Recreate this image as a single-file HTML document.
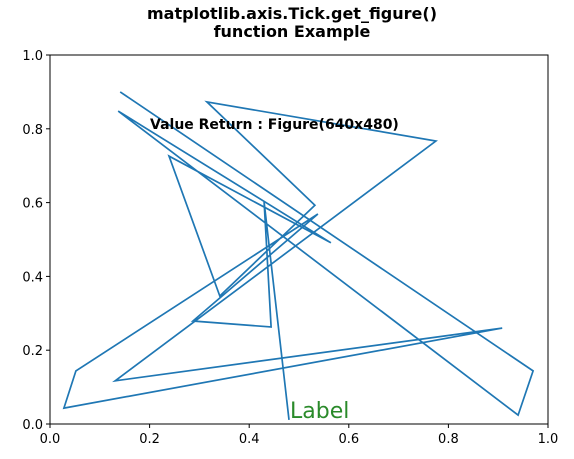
<!DOCTYPE html>
<html><head><meta charset="utf-8"><style>
body{margin:0;background:#fff;width:574px;height:459px;overflow:hidden}
svg{display:block;font-family:"DejaVu Sans","Liberation Sans",sans-serif}
</style></head><body>
<svg id="chart" width="574" height="459">
<text x="292" y="19" text-anchor="middle" font-size="16" font-weight="bold">matplotlib.axis.Tick.get_figure()</text>
<text x="292" y="37" text-anchor="middle" font-size="16" font-weight="bold">function Example</text>
<g id="ticks"></g>
<path id="line" fill="none" stroke="#1f77b4" stroke-width="1.7" stroke-linejoin="miter"></path>
<rect x="50" y="55" width="498" height="369" fill="none" stroke="#000" stroke-width="1"></rect>
<text x="150" y="129" font-size="14" font-weight="bold">Value Return : Figure(640x480)</text>
<text x="290" y="418" font-size="22" fill="#2a8a2a">Label</text>
</svg>
<script>
const xs = [0.141,0.970,0.940,0.137,0.564,0.239,0.341,0.532,0.315,0.775,0.131,0.908,0.028,0.052,0.538,0.287,0.444,0.430,0.480];
const ys = [0.900,0.144,0.024,0.848,0.491,0.726,0.347,0.593,0.873,0.767,0.117,0.260,0.043,0.144,0.569,0.279,0.263,0.602,0.011];
const xTicks = [0,0.2,0.4,0.6,0.8,1.0];
const yTicks = [0,0.2,0.4,0.6,0.8,1.0];
const X0=50,X1=548,Y0=424,Y1=55;
function sx(v){return X0+(X1-X0)*v;}
function sy(v){return Y0-(Y0-Y1)*v;}
const ns="http://www.w3.org/2000/svg";
let d="";
for(let i=0;i<xs.length;i++){d+=(i?"L":"M")+sx(xs[i]).toFixed(1)+","+sy(ys[i]).toFixed(1);}
document.getElementById("line").setAttribute("d",d);
const g=document.getElementById("ticks");
xTicks.forEach(t=>{
  const l=document.createElementNS(ns,"line");
  l.setAttribute("x1",sx(t));l.setAttribute("x2",sx(t));l.setAttribute("y1",Y0);l.setAttribute("y2",Y0+4);l.setAttribute("stroke","#000");
  
  
  g.appendChild(l);
  const tx=document.createElementNS(ns,"text");
  tx.setAttribute("x",sx(t));tx.setAttribute("y",Y0+19);tx.setAttribute("text-anchor","middle");tx.setAttribute("font-size","13");
  tx.textContent=t.toFixed(1);
  
  
  g.appendChild(tx);
});
yTicks.forEach(t=>{
  const l=document.createElementNS(ns,"line");
  l.setAttribute("x1",X0-4);l.setAttribute("x2",X0);l.setAttribute("y1",sy(t));l.setAttribute("y2",sy(t));l.setAttribute("stroke","#000");
  
  
  g.appendChild(l);
  const tx=document.createElementNS(ns,"text");
  tx.setAttribute("x",X0-7);tx.setAttribute("y",sy(t)+5);tx.setAttribute("text-anchor","end");tx.setAttribute("font-size","13");
  tx.textContent=t.toFixed(1);
  
  
  g.appendChild(tx);
});
</script>
</body></html>
